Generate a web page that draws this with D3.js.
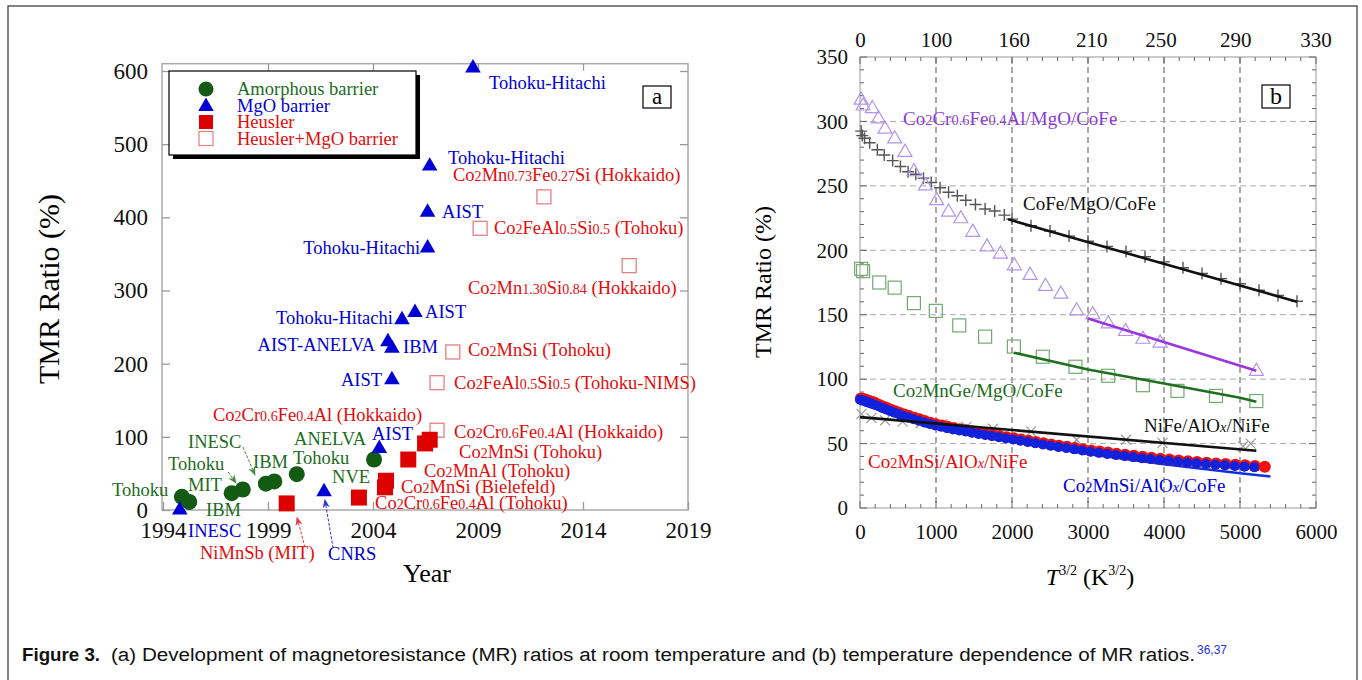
<!DOCTYPE html>
<html lang="en">
<head>
<meta charset="UTF-8">
<title>Figure 3</title>
<style>
  html, body { margin: 0; background: #fff; }
  svg { display: block; }
</style>
</head>
<body>
<svg id="fig" width="1362" height="680"></svg>
<script src="https://cdn.jsdelivr.net/npm/d3@7"></script>
<script>
// ---------- panel a : TMR ratio vs year ----------
const amorphYear = [1994.9, 1995.25, 1997.27, 1997.8, 1998.9, 1999.3, 2000.37, 2004.05]
const amorphTMR  = [18, 11, 23, 28, 36, 39, 49, 69]
const mgoYear = [1994.8, 2001.67, 2004.3, 2004.9, 2004.71, 2004.9, 2005.38, 2006.0, 2006.6, 2006.6, 2006.7, 2008.76]
const mgoTMR  = [0, 25, 84, 178, 230, 221, 260, 270, 358, 407, 470, 604]
const heuslerYear = [1999.89, 2003.33, 2004.57, 2004.62, 2005.68, 2006.48, 2006.7]
const heuslerTMR  = [9, 17, 31, 40, 69, 91, 96]
const heuslerMgoYear = [2007.05, 2007.05, 2007.8, 2009.1, 2012.14, 2016.2]
const heuslerMgoTMR  = [109, 174, 216, 385, 428, 334]
const yearTicks = [1994, 1999, 2004, 2009, 2014, 2019]
const tmrTicksA = [0, 100, 200, 300, 400, 500, 600]
const legendA = ['Amorphous barrier', 'MgO barrier', 'Heusler', 'Heusler+MgO barrier']

// ---------- panel b : TMR ratio vs T^3/2 ----------
const cofeX   = [15, 30, 60, 127, 228, 319, 430, 532, 633, 734, 835, 937, 1053, 1165, 1281, 1392, 1519, 1646, 1772, 1899, 2000, 2250, 2500, 2750, 3000, 3250, 3500, 3750, 4000, 4250, 4500, 4750, 5000, 5250, 5500, 5750]
const cofeTMR = [292.5, 289, 287, 283.5, 278, 274, 269.6, 265, 261, 259, 256, 252.6, 248.5, 245, 242.3, 238.8, 235.5, 232, 230.5, 227.3, 224.2, 219, 215, 211, 207, 203, 199, 195, 191, 186.5, 182, 178, 174, 169, 165, 160.5]
const ccfaX   = [15, 40, 162, 243, 329, 456, 592, 709, 861, 1010, 1165, 1327, 1484, 1671, 1848, 2030, 2238, 2441, 2643, 2851, 3063, 3266, 3494, 3722, 3949, 5215]
const ccfaTMR = [316.6, 312, 310, 302, 294, 286.5, 276, 261, 250, 238.5, 229.6, 224.5, 214, 202.6, 197, 188, 180.5, 172, 166, 153, 150, 143, 137, 131, 128, 106]
const cmgX    = [15, 40, 253, 456, 709, 997, 1306, 1646, 2025, 2405, 2835, 3266, 3722, 4177, 4684, 5215]
const cmgTMR  = [185.6, 183.8, 175, 171, 159, 153, 141.7, 133, 125.3, 117.4, 109.6, 102.6, 95.3, 90.9, 87, 83]
const nifeX   = [20, 150, 330, 560, 800, 1080, 1400, 1750, 2250, 2850, 3500, 3980, 5040, 5140]
const nifeTMR = [73, 70, 68, 67, 66, 65, 63, 61.5, 59.5, 53, 53, 50.5, 47.8, 50]
// Co2MnSi junctions were measured against temperature (K)
const cmsNiFeK   = [5, 10, 15, 20, 25, 30, 35, 40, 45, 50, 55, 60, 65, 70, 75, 80, 85, 90, 95, 100, 105, 110, 115, 120, 125, 130, 135, 140, 145, 150, 155, 160, 165, 170, 175, 180, 185, 190, 195, 200, 205, 210, 215, 220, 225, 230, 235, 240, 245, 250, 255, 260, 265, 270, 275, 280, 285, 290, 295, 300, 305]
const cmsNiFeTMR = [85, 84.7, 84.3, 83.8, 83, 82.2, 81.2, 80, 78.8, 77.6, 76.3, 75, 73.8, 72.5, 71.3, 70, 68.8, 67.5, 66.2, 65, 64, 63, 62, 61.2, 60.3, 59.4, 58.5, 57.6, 56.8, 55.9, 55, 54.1, 53.2, 52.2, 51.2, 50.3, 49.3, 48.4, 47.5, 46.5, 45.6, 44.7, 43.8, 43, 42.1, 41.3, 40.5, 39.7, 39, 38.3, 37.6, 36.9, 36.3, 35.7, 35.1, 34.6, 34.1, 33.6, 33.1, 32.6, 32.1]
const cmsCoFeK   = [5, 10, 15, 20, 25, 30, 35, 40, 45, 50, 55, 60, 65, 70, 75, 80, 85, 90, 95, 100, 105, 110, 115, 120, 125, 130, 135, 140, 145, 150, 155, 160, 165, 170, 175, 180, 185, 190, 195, 200, 205, 210, 215, 220, 225, 230, 235, 240, 245, 250, 255, 260, 265, 270, 275, 280, 285, 290, 295, 300]
const cmsCoFeTMR = [84, 83.6, 83.2, 82.6, 81.9, 81, 80, 78.9, 77.7, 76.5, 75.2, 73.9, 72.7, 71.4, 70.2, 68.9, 67.7, 66.4, 65.2, 64, 63, 62, 61, 60.2, 59.3, 58.4, 57.5, 56.6, 55.8, 54.9, 54, 53.1, 52.2, 51.2, 50.2, 49.3, 48.3, 47.4, 46.5, 45.5, 44.6, 43.7, 42.8, 42, 41.1, 40.3, 39.5, 38.7, 38, 37.3, 36.6, 35.9, 35.3, 34.7, 34.1, 33.6, 33.1, 32.6, 32.1, 31.6]
// straight fits
const cofeFitX = [1950, 5750],  cofeFitTMR = [224, 160]
const ccfaFitX = [3000, 5215],  ccfaFitTMR = [147, 106.5]
const cmgFitX  = [2025, 3000, 4000, 5000, 5215], cmgFitTMR = [120.5, 107.5, 96.6, 85.6, 82.5]
const nifeFitX = [0, 5215],     nifeFitTMR = [70.5, 44.4]
const cmsFitX  = [50, 1000, 2000, 3000, 4000, 5000, 5400], cmsFitTMR = [80, 64, 52, 42, 34, 27, 24.5]
const t32Ticks = [0, 1000, 2000, 3000, 4000, 5000, 6000]
const tempTicks = [0, 100, 160, 210, 250, 290, 330]
const tmrTicksB = [0, 50, 100, 150, 200, 250, 300, 350]

const green = '#1d6b1d', blue = '#0000d4', red = '#e30b0b', purple = '#8b3bd8'
const serif = '"Liberation Serif", "Times New Roman", serif'

const svg = d3.select('#fig')

// 下标写法: "Co_2_Mn" -> 2 小字号
function rich(t, str, size) {
  str.split('_').forEach((p, i) => {
    if (!p) return
    const s = t.append('tspan').text(p)
    if (i % 2) {
      s.attr('font-size', size * 0.76)
      if (p === 'x') s.attr('font-style', 'italic')
    }
  })
  return t
}

// outer frame
svg.append('rect').attr('x', 8).attr('y', 6).attr('width', 1349).attr('height', 700)
  .attr('fill', 'none').attr('stroke', '#333').attr('stroke-width', 1.2)

// ================= panel a =================
const xA = d3.scaleLinear().domain([1994, 2019]).range([163, 688])
const yA = d3.scaleLinear().domain([0, 600]).range([510, 71])
const ga = svg.append('g')

ga.append('rect').attr('x', xA(1994) - 1).attr('y', yA(610)).attr('width', xA(2019) - xA(1994) + 1)
  .attr('height', yA(0) - yA(610)).attr('fill', 'none').attr('stroke', '#aaa').attr('stroke-width', 1.5)

const axA = (g) => g.call(s => s.select('.domain').remove())
  .call(s => s.selectAll('line').attr('stroke', '#999').attr('stroke-width', 1.3))
  .call(s => s.selectAll('text').attr('font-family', serif).attr('font-size', 23).attr('fill', '#111'))

ga.append('g').attr('transform', `translate(${xA(1994) - 1},0)`)
  .call(d3.axisLeft(yA).tickValues(tmrTicksA).tickSizeInner(-8).tickSizeOuter(0).tickPadding(14)).call(axA)
ga.append('g').attr('transform', `translate(${xA(2019)},0)`)
  .call(d3.axisRight(yA).tickValues(tmrTicksA.slice(1)).tickSizeInner(-8).tickSizeOuter(0).tickFormat('')).call(axA)
ga.append('g').attr('transform', `translate(0,${yA(0)})`)
  .call(d3.axisBottom(xA).tickValues(yearTicks).tickFormat(d3.format('d')).tickSizeInner(-8).tickSizeOuter(0).tickPadding(12)).call(axA)
ga.append('g').attr('transform', `translate(0,${yA(610)})`)
  .call(d3.axisTop(xA).tickValues(yearTicks.slice(1, -1)).tickSizeInner(-7).tickSizeOuter(0).tickFormat('')).call(axA)

ga.append('text').attr('transform', 'translate(59,289) rotate(-90)').attr('text-anchor', 'middle')
  .attr('font-family', serif).attr('font-size', 30).text('TMR Ratio (%)')
ga.append('text').attr('x', 427).attr('y', 582).attr('text-anchor', 'middle')
  .attr('font-family', serif).attr('font-size', 26).text('Year')

// arrows
const defs = svg.append('defs')
;[['ag', green], ['ar', red], ['ab', blue]].forEach(([id, c]) => {
  defs.append('marker').attr('id', id).attr('viewBox', '0 0 10 10').attr('refX', 9).attr('refY', 5)
    .attr('markerWidth', 9).attr('markerHeight', 9).attr('orient', 'auto')
    .append('path').attr('d', 'M0,1L10,5L0,9L3,5Z').attr('fill', c)
})
const arrowsA = [
  [1997.81, 86, 1998.38, 48, green, 'ag'],
  [1997.1, 52, 1997.48, 37, green, 'ag'],
  [2000.76, -51, 2000.38, -10, red, 'ar'],
  [2002.1, -52, 2001.71, 14, blue, 'ab']
]
ga.selectAll('.arrow').data(arrowsA).join('line').attr('class', 'arrow')
  .attr('x1', d => xA(d[0])).attr('y1', d => yA(d[1])).attr('x2', d => xA(d[2])).attr('y2', d => yA(d[3]))
  .attr('stroke', d => d[4]).attr('stroke-width', 1).attr('stroke-dasharray', '3,1.5').attr('opacity', 0.8)
  .attr('marker-end', d => `url(#${d[5]})`)

// markers
const triA = d3.symbol().type(d3.symbolTriangle).size(105)
ga.selectAll('.amorph').data(amorphYear).join('circle').attr('class', 'amorph')
  .attr('cx', d => xA(d)).attr('cy', (d, i) => yA(amorphTMR[i])).attr('r', 8).attr('fill', '#135a13')
ga.selectAll('.hmgo').data(heuslerMgoYear).join('rect').attr('class', 'hmgo')
  .attr('x', d => xA(d) - 7).attr('y', (d, i) => yA(heuslerMgoTMR[i]) - 7).attr('width', 14).attr('height', 14)
  .attr('fill', '#fff').attr('stroke', '#e58080').attr('stroke-width', 1.3)
ga.selectAll('.heus').data(heuslerYear).join('rect').attr('class', 'heus')
  .attr('x', d => xA(d) - 8).attr('y', (d, i) => yA(heuslerTMR[i]) - 8).attr('width', 16).attr('height', 16)
  .attr('fill', '#dd0000')
ga.selectAll('.mgo').data(mgoYear).join('path').attr('class', 'mgo')
  .attr('transform', (d, i) => `translate(${xA(d)},${yA(mgoTMR[i])})`).attr('d', triA).attr('fill', blue)

// labels [text, year, TMR, colour, anchor]
const annotA = [
  ['Tohoku-Hitachi', 2009.52, 575, blue, 'start'],
  ['Tohoku-Hitachi', 2007.57, 473, blue, 'start'],
  ['AIST', 2007.29, 399, blue, 'start'],
  ['Tohoku-Hitachi', 2006.24, 350, blue, 'end'],
  ['AIST', 2006.48, 262, blue, 'start'],
  ['Tohoku-Hitachi', 2004.95, 254, blue, 'end'],
  ['AIST-ANELVA', 2004.1, 217, blue, 'end'],
  ['IBM', 2005.43, 215, blue, 'start'],
  ['AIST', 2004.43, 170, blue, 'end'],
  ['AIST', 2003.95, 96, blue, 'start'],
  ['INESC', 1995.19, -37, blue, 'start'],
  ['CNRS', 2001.86, -68, blue, 'start'],
  ['Tohoku', 1991.57, 19, green, 'start'],
  ['MIT', 1995.19, 26, green, 'start'],
  ['IBM', 1996.05, -8, green, 'start'],
  ['Tohoku', 1994.24, 55, green, 'start'],
  ['INESC', 1995.19, 85, green, 'start'],
  ['IBM', 1998.29, 57, green, 'start'],
  ['Tohoku', 2000.19, 63, green, 'start'],
  ['ANELVA', 2000.24, 89, green, 'start'],
  ['NVE', 2002.05, 37, green, 'start'],
  ['Co_2_Mn_0.73_Fe_0.27_Si (Hokkaido)', 2007.81, 450, red, 'start'],
  ['Co_2_FeAl_0.5_Si_0.5_ (Tohoku)', 2009.76, 377, red, 'start'],
  ['Co_2_Mn_1.30_Si_0.84_ (Hokkaido)', 2008.52, 295, red, 'start'],
  ['Co_2_MnSi (Tohoku)', 2008.52, 210, red, 'start'],
  ['Co_2_FeAl_0.5_Si_0.5_ (Tohoku-NIMS)', 2007.86, 165, red, 'start'],
  ['Co_2_Cr_0.6_Fe_0.4_Al (Hokkaido)', 1996.38, 122, red, 'start'],
  ['Co_2_Cr_0.6_Fe_0.4_Al (Hokkaido)', 2007.86, 98, red, 'start'],
  ['Co_2_MnSi (Tohoku)', 2008.1, 71, red, 'start'],
  ['Co_2_MnAl (Tohoku)', 2006.43, 45, red, 'start'],
  ['Co_2_MnSi (Bielefeld)', 2005.33, 23, red, 'start'],
  ['Co_2_Cr_0.6_Fe_0.4_Al (Tohoku)', 2004.1, 1, red, 'start'],
  ['NiMnSb (MIT)', 1995.76, -67, red, 'start']
]
annotA.forEach(d => {
  const t = ga.append('text').attr('x', xA(d[1])).attr('y', yA(d[2])).attr('text-anchor', d[4])
    .attr('font-family', serif).attr('font-size', 18.5).attr('fill', d[3])
  rich(t, d[0], 18.5)
})

// legend
const lg = ga.append('g')
lg.append('rect').attr('x', 173).attr('y', 75).attr('width', 247).attr('height', 84).attr('fill', '#000')
lg.append('rect').attr('x', 169).attr('y', 71).attr('width', 247).attr('height', 84)
  .attr('fill', '#fff').attr('stroke', '#000').attr('stroke-width', 1.2)
const legColor = [green, blue, red, red]
legendA.forEach((name, i) => {
  const cy = 89 + i * 16.5
  if (i === 0) lg.append('circle').attr('cx', 206).attr('cy', cy).attr('r', 7.5).attr('fill', '#135a13')
  if (i === 1) lg.append('path').attr('transform', `translate(206,${cy + 1})`).attr('d', triA).attr('fill', blue)
  if (i === 2) lg.append('rect').attr('x', 199).attr('y', cy - 7).attr('width', 14).attr('height', 14).attr('fill', '#dd0000')
  if (i === 3) lg.append('rect').attr('x', 199).attr('y', cy - 7).attr('width', 14).attr('height', 14)
    .attr('fill', '#fff').attr('stroke', '#e58080').attr('stroke-width', 1.2)
  lg.append('text').attr('x', 237).attr('y', cy + 6).attr('font-family', serif).attr('font-size', 18.5)
    .attr('fill', legColor[i]).text(name)
})

ga.append('rect').attr('x', 643).attr('y', 86).attr('width', 28).attr('height', 22)
  .attr('fill', '#fff').attr('stroke', '#000').attr('stroke-width', 1.2)
ga.append('text').attr('x', 657).attr('y', 104).attr('text-anchor', 'middle')
  .attr('font-family', serif).attr('font-size', 23).text('a')

// ================= panel b =================
const xB = d3.scaleLinear().domain([0, 6000]).range([860, 1316])
const yB = d3.scaleLinear().domain([0, 350]).range([508, 57])
const tB = d3.scalePow().exponent(1.5).domain([0, Math.pow(6000, 2 / 3)]).range(xB.range())
const gb = svg.append('g')

// dashed grid
gb.selectAll('.vg').data(t32Ticks.slice(1, -1)).join('line').attr('class', 'vg')
  .attr('x1', d => xB(d)).attr('x2', d => xB(d)).attr('y1', yB(350)).attr('y2', yB(0))
  .attr('stroke', '#555').attr('stroke-dasharray', '6,4')
gb.selectAll('.hg').data(tmrTicksB.slice(1, -1)).join('line').attr('class', 'hg')
  .attr('x1', xB(0)).attr('x2', xB(6000)).attr('y1', d => yB(d)).attr('y2', d => yB(d))
  .attr('stroke', '#aaa').attr('stroke-dasharray', '6,4')

gb.append('rect').attr('x', xB(0)).attr('y', yB(350)).attr('width', xB(6000) - xB(0)).attr('height', yB(0) - yB(350))
  .attr('fill', 'none').attr('stroke', '#aaa').attr('stroke-width', 1.2)

// inward ticks
const xMinor = d3.range(0, 6001, 200), yMinor = d3.range(0, 351, 10)
const tickStyle = s => s.attr('stroke', '#666').attr('stroke-width', 1)
gb.selectAll('.xt').data(xMinor).join('line').attr('class', 'xt').attr('x1', d => xB(d)).attr('x2', d => xB(d))
  .attr('y1', yB(0)).attr('y2', d => yB(0) - (d % 1000 ? 4 : 7)).call(tickStyle)
gb.selectAll('.xtt').data(xMinor).join('line').attr('class', 'xtt').attr('x1', d => xB(d)).attr('x2', d => xB(d))
  .attr('y1', yB(350)).attr('y2', d => yB(350) + (d % 1000 ? 4 : 7)).call(tickStyle)
gb.selectAll('.yt').data(yMinor).join('line').attr('class', 'yt').attr('y1', d => yB(d)).attr('y2', d => yB(d))
  .attr('x1', xB(0)).attr('x2', d => xB(0) + (d % 50 ? 4 : 7)).call(tickStyle)
gb.selectAll('.ytr').data(yMinor).join('line').attr('class', 'ytr').attr('y1', d => yB(d)).attr('y2', d => yB(d))
  .attr('x1', xB(6000)).attr('x2', d => xB(6000) - (d % 50 ? 4 : 7)).call(tickStyle)

const axB = (g) => g.call(s => s.select('.domain').remove())
  .call(s => s.selectAll('text').attr('font-family', serif).attr('font-size', 21).attr('fill', '#111'))
gb.append('g').attr('transform', `translate(${xB(0)},0)`)
  .call(d3.axisLeft(yB).tickValues(tmrTicksB).tickSize(0).tickPadding(12)).call(axB)
gb.append('g').attr('transform', `translate(0,${yB(0)})`)
  .call(d3.axisBottom(xB).tickValues(t32Ticks).tickFormat(d3.format('d')).tickSize(0).tickPadding(16)).call(axB)
gb.append('g').attr('transform', `translate(0,${yB(350)})`)
  .call(d3.axisTop(tB).tickValues(tempTicks).tickFormat(d3.format('d')).tickSize(0).tickPadding(10)).call(axB)

gb.append('text').attr('transform', 'translate(771,282) rotate(-90)').attr('text-anchor', 'middle')
  .attr('font-family', serif).attr('font-size', 24).text('TMR Ratio (%)')
const xl = gb.append('text').attr('x', 1090).attr('y', 585).attr('text-anchor', 'middle')
  .attr('font-family', serif).attr('font-size', 24)
xl.append('tspan').attr('font-style', 'italic').text('T')
xl.append('tspan').attr('font-size', 14).attr('dy', -10).text('3/2')
xl.append('tspan').attr('dy', 10).text(' (K')
xl.append('tspan').attr('font-size', 14).attr('dy', -10).text('3/2')
xl.append('tspan').attr('dy', 10).text(')')

const lineB = d3.line().x(d => xB(d[0])).y(d => yB(d[1]))
const pairs = (xs, ys) => xs.map((x, i) => [x, ys[i]])
const fitLine = (xs, ys, c) => gb.append('path').datum(pairs(xs, ys)).attr('d', lineB)
  .attr('fill', 'none').attr('stroke', c).attr('stroke-width', 2.6)

// markers
gb.selectAll('.cofe').data(pairs(cofeX, cofeTMR)).join('path').attr('class', 'cofe')
  .attr('transform', d => `translate(${xB(d[0])},${yB(d[1])})`).attr('d', 'M-6,0H6M0,-6V6')
  .attr('stroke', '#555').attr('stroke-width', 1.4)
gb.selectAll('.ccfa').data(pairs(ccfaX, ccfaTMR)).join('path').attr('class', 'ccfa')
  .attr('transform', d => `translate(${xB(d[0])},${yB(d[1])})`).attr('d', d3.symbol().type(d3.symbolTriangle).size(85))
  .attr('fill', 'none').attr('stroke', '#b394ea').attr('stroke-width', 1.2)
gb.selectAll('.cmg').data(pairs(cmgX, cmgTMR)).join('rect').attr('class', 'cmg')
  .attr('x', d => xB(d[0]) - 6.5).attr('y', d => yB(d[1]) - 6.5).attr('width', 13).attr('height', 13)
  .attr('fill', 'none').attr('stroke', '#72aa72').attr('stroke-width', 1.2)
gb.selectAll('.nife').data(pairs(nifeX, nifeTMR)).join('path').attr('class', 'nife')
  .attr('transform', d => `translate(${xB(d[0])},${yB(d[1])})`).attr('d', 'M-5,-5L5,5M-5,5L5,-5')
  .attr('stroke', '#999').attr('stroke-width', 1.2)

fitLine(cmsFitX, cmsFitTMR, '#1030e0')
gb.selectAll('.cmsn').data(cmsNiFeK).join('circle').attr('class', 'cmsn')
  .attr('cx', d => xB(Math.pow(d, 1.5))).attr('cy', (d, i) => yB(cmsNiFeTMR[i])).attr('r', 6).attr('fill', '#ee1111')
gb.selectAll('.cmsc').data(cmsCoFeK).join('circle').attr('class', 'cmsc')
  .attr('cx', d => xB(Math.pow(d, 1.5)) - 0.8).attr('cy', (d, i) => yB(cmsCoFeTMR[i])).attr('r', 5).attr('fill', '#1122dd')

fitLine(cofeFitX, cofeFitTMR, '#111')
fitLine(ccfaFitX, ccfaFitTMR, '#9a35e0')
fitLine(cmgFitX, cmgFitTMR, '#1f6f1f')
fitLine(nifeFitX, nifeFitTMR, '#111')

const annotB = [
  ['Co_2_Cr_0.6_Fe_0.4_Al/MgO/CoFe', 566, 297, purple],
  ['CoFe/MgO/CoFe', 2145, 231, '#111'],
  ['Co_2_MnGe/MgO/CoFe', 434, 86, green],
  ['NiFe/AlO_x_/NiFe', 3737, 59, '#111'],
  ['Co_2_MnSi/AlO_x_/NiFe', 105, 31, red],
  ['Co_2_MnSi/AlO_x_/CoFe', 2671, 12.4, blue]
]
annotB.forEach(d => {
  const t = gb.append('text').attr('x', xB(d[1])).attr('y', yB(d[2]))
    .attr('font-family', serif).attr('font-size', 19).attr('fill', d[3])
  rich(t, d[0], 19)
})

gb.append('rect').attr('x', 1262).attr('y', 85).attr('width', 28).attr('height', 23)
  .attr('fill', '#fff').attr('stroke', '#000').attr('stroke-width', 1.2)
gb.append('text').attr('x', 1276).attr('y', 104).attr('text-anchor', 'middle')
  .attr('font-family', serif).attr('font-size', 24).text('b')

// caption
const cap = svg.append('text').attr('x', 22).attr('y', 661)
  .attr('font-family', '"Liberation Sans", Arial, sans-serif').attr('font-size', 18).attr('fill', '#111')
cap.append('tspan').attr('font-weight', 'bold').attr('textLength', 78).attr('lengthAdjust', 'spacingAndGlyphs').text('Figure 3.')
cap.append('tspan').attr('x', 111).attr('textLength', 1084).attr('lengthAdjust', 'spacingAndGlyphs')
  .text('(a) Development of magnetoresistance (MR) ratios at room temperature and (b) temperature dependence of MR ratios.')
cap.append('tspan').attr('font-size', 12).attr('dx', 2).attr('dy', -7).attr('fill', '#2233dd').text('36,37')
</script>
</body>
</html>
